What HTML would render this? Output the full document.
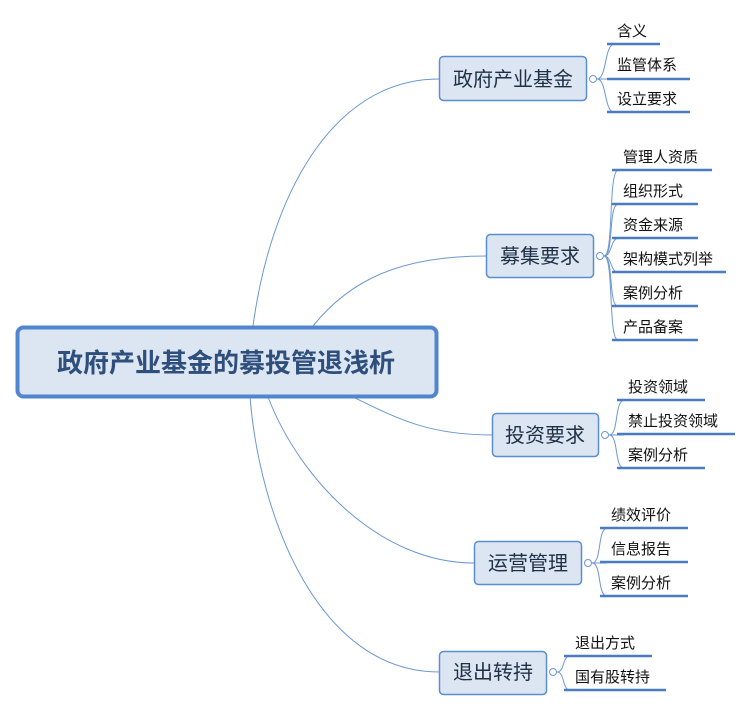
<!DOCTYPE html>
<html><head><meta charset="utf-8"><style>
body{margin:0;width:750px;height:710px;background:#fff;overflow:hidden;font-family:"Liberation Sans","Noto Sans CJK SC",sans-serif}
svg{position:absolute;left:0;top:0}
.t{font-family:"Liberation Sans","Noto Sans CJK SC",sans-serif}
</style></head><body>
<svg width="750" height="710" viewBox="0 0 750 710">
<g fill="none" stroke="#6c97d2" stroke-width="1">
<path d="M253 326 C 270 200, 330 79, 439 79"/>
<path d="M313 326 C 350 280, 400 256, 486 256"/>
<path d="M353 397 C 400 420, 430 435, 492 435"/>
<path d="M268 397 C 300 480, 380 563, 474 563"/>
<path d="M250 397 C 260 520, 320 672, 439 672"/>
<path d="M597 79 C 607 79, 604 46, 614 44"/><path d="M597 79 L614 79"/><path d="M597 79 C 607 79, 604 112, 614 112"/>
<path d="M604 256 C 614 256, 608 172, 618 170"/><path d="M604 256 C 614 256, 608 206, 618 204"/><path d="M604 256 C 612 256, 610 240, 618 238"/><path d="M604 256 C 612 256, 610 272, 618 272"/><path d="M604 256 C 614 256, 608 306, 618 306"/><path d="M604 256 C 614 256, 608 340, 618 340"/>
<path d="M609 435 C 619 435, 614 402, 624 400"/><path d="M609 435 L624 435"/><path d="M609 435 C 619 435, 614 468, 624 468"/>
<path d="M592 563 C 602 563, 597 530, 607 528"/><path d="M592 563 L607 563"/><path d="M592 563 C 602 563, 597 596, 607 596"/>
<path d="M557 672 C 565 672, 562 656, 570 656"/><path d="M557 672 C 565 672, 562 690, 570 690"/>
</g>
<g stroke="#4a7cc4" stroke-width="2.5">
<line x1="607" y1="44" x2="660" y2="44"/><line x1="607" y1="79" x2="690" y2="79"/><line x1="607" y1="112" x2="690" y2="112"/>
<line x1="612" y1="170" x2="712" y2="170"/><line x1="612" y1="204" x2="698" y2="204"/><line x1="612" y1="238" x2="698" y2="238"/><line x1="612" y1="272" x2="726" y2="272"/><line x1="612" y1="306" x2="698" y2="306"/><line x1="612" y1="340" x2="698" y2="340"/>
<line x1="617" y1="400" x2="705" y2="400"/><line x1="617" y1="434" x2="735" y2="434"/><line x1="617" y1="468" x2="705" y2="468"/>
<line x1="600" y1="528" x2="688" y2="528"/><line x1="600" y1="562" x2="688" y2="562"/><line x1="600" y1="596" x2="688" y2="596"/>
<line x1="564" y1="656" x2="652" y2="656"/><line x1="564" y1="690" x2="666" y2="690"/>
</g>
<g fill="#fff" stroke="#6c97d2" stroke-width="1">
<circle cx="593" cy="79" r="3.5"/><circle cx="600" cy="256" r="3.5"/><circle cx="605" cy="435" r="3.5"/><circle cx="588" cy="563" r="3.5"/><circle cx="553" cy="672" r="3.5"/>
</g>
<g fill="#dce6f2" stroke="#5b8ed0" stroke-width="1.5">
<rect x="439.5" y="56.5" width="147" height="44" rx="4"/>
<rect x="486.5" y="234.5" width="107" height="43" rx="4"/>
<rect x="492.5" y="413.5" width="106" height="43" rx="4"/>
<rect x="474.5" y="541.5" width="107" height="43" rx="4"/>
<rect x="439.5" y="651.5" width="107" height="43" rx="4"/>
</g>
<rect x="17.5" y="327.5" width="419" height="69" rx="6" fill="#dce6f2" stroke="#4f86cf" stroke-width="4"/>
<text class="t" x="226" y="372" text-anchor="middle" font-size="26" font-weight="bold" fill="#2e4e7c">政府产业基金的募投管退浅析</text>
<g class="t" font-size="20" fill="#1f2f45" text-anchor="middle">
<text x="513" y="86">政府产业基金</text>
<text x="540" y="263">募集要求</text>
<text x="545" y="442">投资要求</text>
<text x="528" y="570">运营管理</text>
<text x="493" y="679">退出转持</text>
</g>
<g class="t" font-size="15" fill="#111">
<text x="617" y="36">含义</text><text x="617" y="70">监管体系</text><text x="617" y="104">设立要求</text>
<text x="623" y="162">管理人资质</text><text x="623" y="196">组织形式</text><text x="623" y="230">资金来源</text><text x="623" y="264">架构模式列举</text><text x="623" y="298">案例分析</text><text x="623" y="332">产品备案</text>
<text x="628" y="392">投资领域</text><text x="628" y="426">禁止投资领域</text><text x="628" y="460">案例分析</text>
<text x="611" y="520">绩效评价</text><text x="611" y="554">信息报告</text><text x="611" y="588">案例分析</text>
<text x="575" y="648">退出方式</text><text x="575" y="682">国有股转持</text>
</g>
</svg>
</body></html>
